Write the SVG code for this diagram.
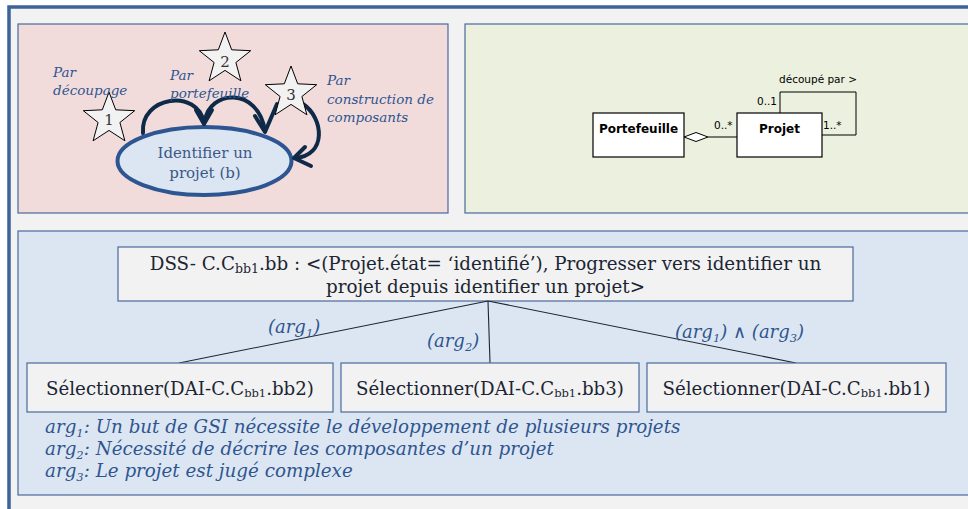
<svg xmlns="http://www.w3.org/2000/svg" width="968" height="509" viewBox="0 0 968 509">
<style>
.serif{font-family:"DejaVu Serif","Liberation Serif",serif;}
.lbl{font-family:"DejaVu Serif","Liberation Serif",serif;font-style:italic;fill:#2e5590;}
.dss{font-family:"DejaVu Serif","Liberation Serif",serif;fill:#1c2533;font-size:18.3px;}
.sel{font-family:"DejaVu Serif","Liberation Serif",serif;fill:#1c2533;font-size:18.2px;text-anchor:middle;}
.box{fill:#f2f2f2;stroke:#4a6a9c;stroke-width:1.2;}
.uml{fill:#fff;stroke:#000;stroke-width:1.2;}
.umlt{font-family:"DejaVu Sans","Liberation Sans",sans-serif;fill:#000;}
.arc{fill:none;stroke:#0f2a48;stroke-width:4;stroke-linecap:round;stroke-linejoin:round;}
.conn{fill:none;stroke:#1c2533;stroke-width:1.1;}
.star{fill:#f2f2f2;stroke:#000;stroke-width:1;}
.num{font-family:"DejaVu Serif","Liberation Serif",serif;font-size:15px;fill:#333;text-anchor:middle;}
</style>
<defs>
<polygon id="starShape" points="0,-27 6.7,-9.2 25.7,-8.3 10.9,3.5 15.9,21.8 0,11.4 -15.9,21.8 -10.9,3.5 -25.7,-8.3 -6.7,-9.2"/>
</defs>
<rect x="0" y="0" width="968" height="509" fill="#ffffff"/>
<rect x="9" y="7" width="980" height="520" fill="#f2f2f2" stroke="#3d6399" stroke-width="3.5"/>
<!-- panels -->
<g id="panel-process">
<rect x="18" y="24" width="430" height="189" fill="#f2dcdb" stroke="#4a6a9c" stroke-width="1.2"/>
</g>
<g id="panel-uml">
<rect x="465" y="24" width="520" height="189" fill="#ebf1de" stroke="#4a6a9c" stroke-width="1.2"/>
</g>
<g id="panel-dss">
<rect x="18" y="231" width="970" height="264" fill="#dce6f2" stroke="#4a6a9c" stroke-width="1.2"/>
</g>
<!-- process map -->
<g id="node-identifier">
<ellipse cx="204.5" cy="161" rx="87" ry="34" fill="#dce6f2" stroke="#2c5592" stroke-width="4"/>
<text class="serif" x="205" y="158" font-size="15" fill="#3a5888" text-anchor="middle">Identifier un</text>
<text class="serif" x="205" y="178" font-size="15" fill="#3a5888" text-anchor="middle">projet (b)</text>
</g>
<g id="connectors-process">
<path class="arc" d="M143,133 C140,96 198,88 204,123"/>
<path class="arc" d="M196,110 L204,124 L212,110"/>
<path class="arc" d="M205,121 C209,90 258,86 265,131"/>
<path class="arc" d="M255,116 L265,132 L277,104"/>
<path class="arc" d="M303,104 C324,118 327,156 295,158"/>
<path class="arc" d="M305,147 L294,158 L311,166"/>
</g>
<g id="star-1">
<use href="#starShape" class="star" transform="translate(109,119)"/>
<text class="num" x="109" y="125">1</text>
</g>
<g id="star-2">
<use href="#starShape" class="star" transform="translate(225,59)"/>
<text class="num" x="225" y="67">2</text>
</g>
<g id="star-3">
<use href="#starShape" class="star" transform="translate(291,93)"/>
<text class="num" x="291" y="100">3</text>
</g>
<g id="label-decoupage" class="lbl" font-size="13.5">
<text x="53" y="77">Par</text>
<text x="53" y="95">découpage</text>
</g>
<g id="label-portefeuille" class="lbl" font-size="13.5">
<text x="170" y="80">Par</text>
<text x="170" y="98">portefeuille</text>
</g>
<g id="label-construction" class="lbl" font-size="13.5">
<text x="327" y="85">Par</text>
<text x="327" y="104">construction de</text>
<text x="327" y="122">composants</text>
</g>
<!-- UML -->
<g id="node-portefeuille">
<rect class="uml" x="593" y="113" width="91" height="44"/>
<text class="umlt" x="638.5" y="133" font-size="12" font-weight="bold" text-anchor="middle">Portefeuille</text>
</g>
<g id="node-projet">
<rect class="uml" x="737" y="113" width="85" height="44"/>
<text class="umlt" x="779.5" y="133" font-size="12" font-weight="bold" text-anchor="middle">Projet</text>
</g>
<g id="connectors-uml">
<polygon points="684,137 696,132.5 708,137 696,141.5" fill="#fff" stroke="#000" stroke-width="1"/>
<line x1="708" y1="137" x2="737" y2="137" stroke="#000" stroke-width="1"/>
<polyline points="780,113 780,92 856,92 856,135 822,135" fill="none" stroke="#000" stroke-width="1"/>
<text class="umlt" x="714" y="129" font-size="10.5">0..*</text>
<text class="umlt" x="757" y="105" font-size="10.5">0..1</text>
<text class="umlt" x="823" y="129" font-size="10.5">1..*</text>
<text class="umlt" x="779" y="83" font-size="10.5">découpé par &gt;</text>
</g>
<!-- DSS tree -->
<g id="node-dss">
<rect class="box" x="118" y="247" width="735" height="54"/>
<text class="dss" x="485.5" y="270" text-anchor="middle">DSS- C.C<tspan font-size="12.5" dy="3">bb1</tspan><tspan dy="-3">.bb : &lt;(Projet.état= ‘identifié’), Progresser vers identifier un</tspan></text>
<text class="dss" x="485.5" y="293" text-anchor="middle">projet depuis identifier un projet&gt;</text>
</g>
<g id="connectors-dss">
<line class="conn" x1="488" y1="301" x2="179" y2="363"/>
<line class="conn" x1="488" y1="301" x2="490" y2="363"/>
<line class="conn" x1="488" y1="301" x2="796" y2="363"/>
<text class="lbl" x="268" y="333" font-size="18">(arg<tspan font-size="11.5" dy="4">1</tspan><tspan dy="-4">)</tspan></text>
<text class="lbl" x="427" y="347" font-size="18">(arg<tspan font-size="11.5" dy="4">2</tspan><tspan dy="-4">)</tspan></text>
<text class="lbl" x="675" y="338" font-size="18">(arg<tspan font-size="11.5" dy="4">1</tspan><tspan dy="-4">) ∧ (arg</tspan><tspan font-size="11.5" dy="4">3</tspan><tspan dy="-4">)</tspan></text>
</g>
<g id="node-sel-bb2">
<rect class="box" x="27" y="363" width="306" height="49"/>
<text class="sel" x="180" y="395">Sélectionner(DAI-C.C<tspan font-size="11.5" dy="2">bb1</tspan><tspan dy="-2">.bb2)</tspan></text>
</g>
<g id="node-sel-bb3">
<rect class="box" x="341" y="363" width="298" height="49"/>
<text class="sel" x="490" y="395">Sélectionner(DAI-C.C<tspan font-size="11.5" dy="2">bb1</tspan><tspan dy="-2">.bb3)</tspan></text>
</g>
<g id="node-sel-bb1">
<rect class="box" x="647" y="363" width="299" height="49"/>
<text class="sel" x="796.5" y="395">Sélectionner(DAI-C.C<tspan font-size="11.5" dy="2">bb1</tspan><tspan dy="-2">.bb1)</tspan></text>
</g>
<g id="notes" class="lbl" font-size="18.3">
<text x="45" y="433">arg<tspan font-size="11.5" dy="4">1</tspan><tspan dy="-4">:  Un but de GSI nécessite le développement de plusieurs projets</tspan></text>
<text x="45" y="455">arg<tspan font-size="11.5" dy="4">2</tspan><tspan dy="-4">:  Nécessité de décrire les composantes d’un projet</tspan></text>
<text x="45" y="477">arg<tspan font-size="11.5" dy="4">3</tspan><tspan dy="-4">: Le projet est jugé complexe</tspan></text>
</g>
</svg>
